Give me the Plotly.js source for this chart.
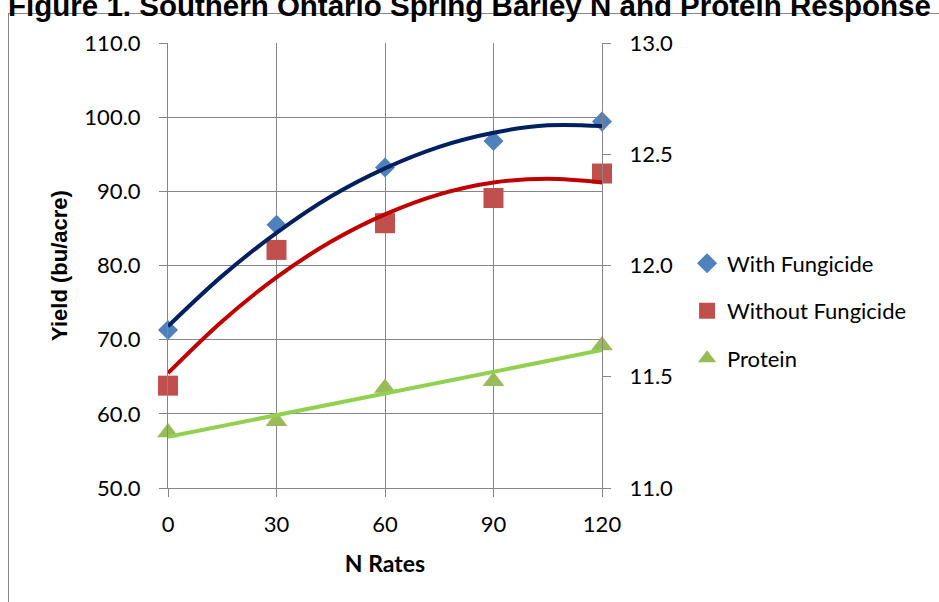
<!DOCTYPE html>
<html>
<head>
<meta charset="utf-8">
<script src="https://cdn.plot.ly/plotly-3.0.1.min.js"></script>
<style>
  html, body { margin: 0; padding: 0; background: #ffffff; overflow: hidden; }
  #wrap { position: relative; width: 939px; height: 602px; }
  #frame { position: absolute; left: 8px; top: 13px; width: 1000px; height: 700px;
           border: 1.5px solid #878787; box-sizing: border-box; }
  #chart { position: absolute; left: 0; top: 0; width: 939px; height: 602px; }
</style>
</head>
<body>
<div id="wrap">
  <div id="frame"></div>
  <div id="chart"></div>
</div>
<script>
// N application rates (lb N/acre)
const nRates = [0, 30, 60, 90, 120];

// Yield, bu/acre
const withFungicide    = [71.3, 85.5, 93.2, 96.8, 99.4];
const withoutFungicide = [63.8, 82.1, 85.7, 89.1, 92.4];

// Grain protein, %
const protein = [11.25, 11.30, 11.45, 11.48, 11.64];

// Trendline curves (2nd-order polynomial for yield, linear for protein)
const trendRates      = [0, 15, 30, 45, 60, 75, 90, 105, 120];
const withTrend       = [71.8, 78.6, 84.4, 89.3, 93.1, 96.0, 97.9, 98.9, 98.8];
const withoutTrend    = [65.5, 72.5, 78.4, 83.2, 86.9, 89.6, 91.2, 91.7, 91.2];
const proteinTrendX   = [0, 120];
const proteinTrend    = [11.23, 11.62];

// Axis ticks
const yieldTicks   = [50, 60, 70, 80, 90, 100, 110];
const proteinTicks = [11.0, 11.5, 12.0, 12.5, 13.0];

const gridGrey = '#868686';
const tickFont = { family: 'Lato, "Open Sans", sans-serif', size: 22, color: '#000000' };

const traces = [
  { x: nRates, y: withFungicide, name: 'With Fungicide', type: 'scatter', mode: 'markers',
    legendgroup: 'a', cliponaxis: false,
    marker: { symbol: 'diamond', size: 15.4, color: '#4F81BD' } },
  { x: nRates, y: withoutFungicide, name: 'Without Fungicide', type: 'scatter', mode: 'markers',
    legendgroup: 'b', cliponaxis: false,
    marker: { symbol: 'square', size: 20, color: '#C0504D' } },
  { x: trendRates, y: withTrend, name: 'Poly. (With Fungicide)', type: 'scatter', mode: 'lines',
    showlegend: false, cliponaxis: false, hoverinfo: 'skip',
    line: { color: '#002060', width: 4, shape: 'spline' } },
  { x: trendRates, y: withoutTrend, name: 'Poly. (Without Fungicide)', type: 'scatter', mode: 'lines',
    showlegend: false, cliponaxis: false, hoverinfo: 'skip',
    line: { color: '#C00000', width: 4, shape: 'spline' } },
  { x: nRates, y: protein, name: 'Protein', type: 'scatter', mode: 'markers', yaxis: 'y2',
    legendgroup: 'c', cliponaxis: false,
    marker: { symbol: 'triangle-up', size: 19, color: '#9BBB59' } },
  { x: proteinTrendX, y: proteinTrend, name: 'Linear (Protein)', type: 'scatter', mode: 'lines',
    yaxis: 'y2', showlegend: false, cliponaxis: false, hoverinfo: 'skip',
    line: { color: '#92D050', width: 4 } }
];

const layout = {
  width: 939, height: 602,
  margin: { l: 168, r: 337, t: 43, b: 114, pad: 0 },
  paper_bgcolor: 'rgba(0,0,0,0)',
  plot_bgcolor: 'rgba(0,0,0,0)',
  showlegend: true,
  title: {
    text: 'Figure 1. Southern Ontario Spring Barley N and Protein Response',
    font: { family: '"Liberation Sans", Arial, sans-serif', size: 29.5, color: '#000000', weight: 'bold' },
    x: 0.5, xref: 'container', xanchor: 'center',
    y: 1 - 16 / 602, yref: 'container', yanchor: 'bottom'
  },
  xaxis: {
    range: [0, 120], tickvals: nRates, ticktext: nRates.map(String),
    showgrid: true, gridcolor: gridGrey, gridwidth: 1,
    showline: true, linecolor: gridGrey, linewidth: 1,
    ticks: 'outside', ticklen: 8, tickcolor: gridGrey, tickwidth: 1,
    ticklabelstandoff: 9,
    zeroline: false, tickfont: tickFont,
    title: { text: 'N Rates', standoff: 19,
             font: { family: 'Lato, "Open Sans", sans-serif', size: 23, color: '#000000', weight: 'bold' } }
  },
  yaxis: {
    range: [50, 110], tickvals: yieldTicks, tickformat: '.1f',
    showgrid: true, gridcolor: gridGrey, gridwidth: 1,
    showline: true, linecolor: gridGrey, linewidth: 1,
    ticks: 'outside', ticklen: 8, tickcolor: gridGrey, tickwidth: 1,
    ticklabelstandoff: 14,
    zeroline: false, tickfont: tickFont,
    title: { text: 'Yield (bu/acre)', standoff: 10,
             font: { family: '"Liberation Sans", Arial, sans-serif', size: 22, color: '#000000', weight: 'bold' } }
  },
  yaxis2: {
    range: [11, 13], tickvals: proteinTicks, tickformat: '.1f',
    overlaying: 'y', side: 'right',
    showgrid: false, showline: true, linecolor: gridGrey, linewidth: 1,
    ticks: 'outside', ticklen: 8, tickcolor: gridGrey, tickwidth: 1,
    ticklabelstandoff: 14,
    zeroline: false, tickfont: tickFont
  },
  legend: {
    x: 1.196, xanchor: 'left', y: 0.552, yanchor: 'top',
    font: { family: 'Lato, "Open Sans", sans-serif', size: 22, color: '#000000' },
    tracegroupgap: 16, bgcolor: 'rgba(0,0,0,0)', borderwidth: 0
  }
};

Plotly.newPlot('chart', traces, layout, { staticPlot: true, displayModeBar: false });
</script>
</body>
</html>
